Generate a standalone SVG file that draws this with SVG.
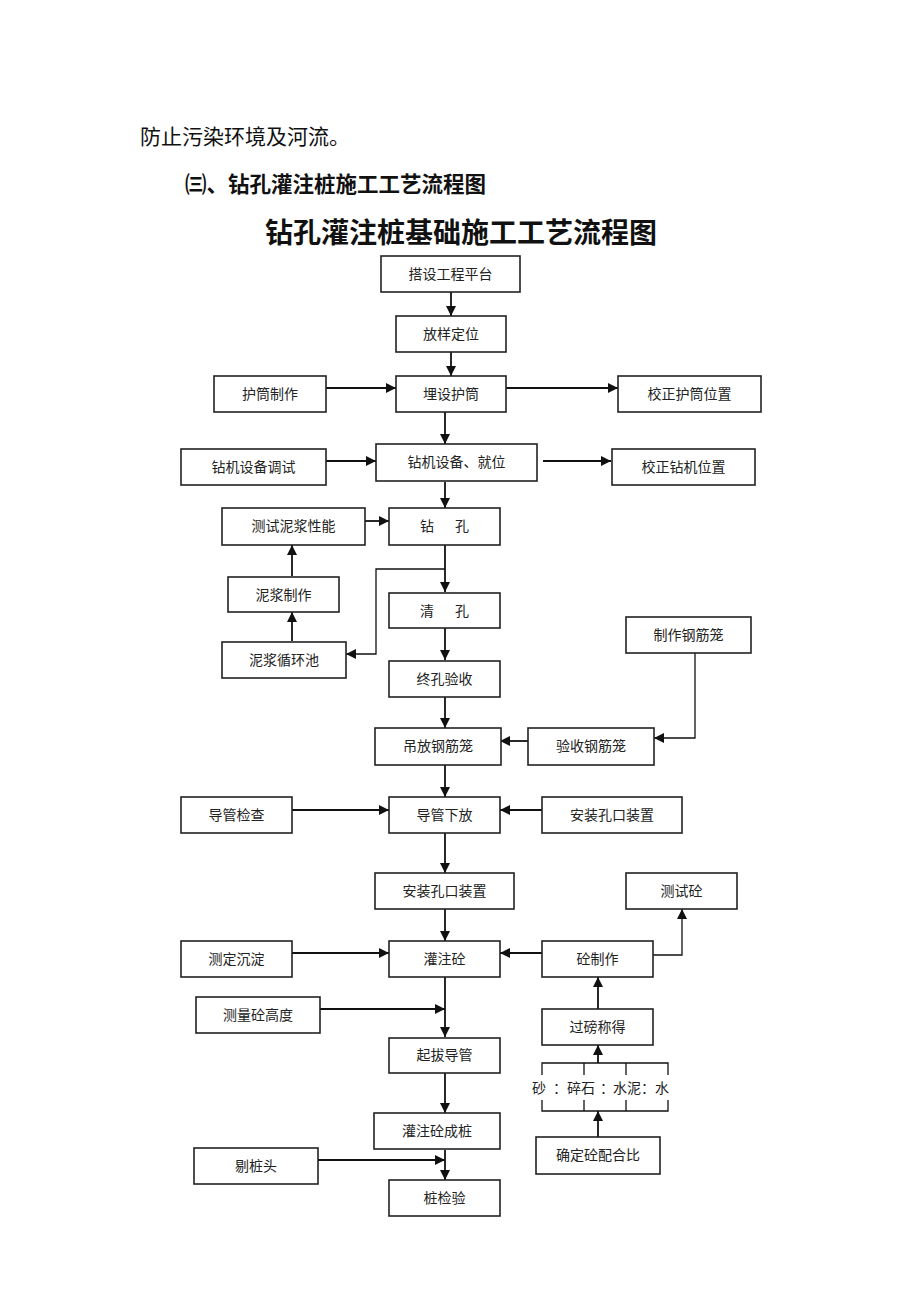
<svg xmlns="http://www.w3.org/2000/svg" width="920" height="1302" viewBox="0 0 920 1302">
<style>
.b{fill:#fff;stroke:#222;stroke-width:1.6}
.t{font-family:"Noto Sans CJK SC",sans-serif;font-size:14px;fill:#222;text-anchor:middle}
.c{fill:none;stroke:#111;stroke-width:1.8}
.h{font-family:"Noto Sans CJK SC",sans-serif;fill:#111}
</style>
<defs>
<marker id="a" viewBox="0 0 10 10" refX="10" refY="5" markerWidth="10" markerHeight="10" markerUnits="userSpaceOnUse" orient="auto"><path d="M0,0 L10,5 L0,10 z" fill="#111"/></marker>
</defs>
<rect width="920" height="1302" fill="#fff"/>
<text class="h" x="140" y="144" font-size="21">防止污染环境及河流。</text>
<text class="h" x="185" y="192" font-size="21.5" font-weight="bold">㈢、钻孔灌注桩施工工艺流程图</text>
<text class="h" x="265" y="243" font-size="28" font-weight="bold">钻孔灌注桩基础施工工艺流程图</text>

<g id="connectors">
<line class="c" x1="451" y1="292" x2="451" y2="316" marker-end="url(#a)"/>
<line class="c" x1="451" y1="352" x2="451" y2="376" marker-end="url(#a)"/>
<line class="c" x1="326" y1="388" x2="396" y2="388" marker-end="url(#a)"/>
<line class="c" x1="506" y1="388" x2="618" y2="388" marker-end="url(#a)"/>
<line class="c" x1="445" y1="412" x2="445" y2="444" marker-end="url(#a)"/>
<line class="c" x1="326" y1="461" x2="376" y2="461" marker-end="url(#a)"/>
<line class="c" x1="543" y1="461" x2="611" y2="461" marker-end="url(#a)"/>
<line class="c" x1="445" y1="482" x2="445" y2="508" marker-end="url(#a)"/>
<line class="c" x1="365" y1="521" x2="389" y2="521" marker-end="url(#a)"/>
<line class="c" x1="445" y1="545" x2="445" y2="592" marker-end="url(#a)"/>
<polyline class="c" points="445,569 376,569 376,654 346,654" marker-end="url(#a)" style="stroke-width:1.3"/>
<line class="c" x1="292" y1="576" x2="292" y2="545" marker-end="url(#a)"/>
<line class="c" x1="292" y1="641" x2="292" y2="612" marker-end="url(#a)"/>
<line class="c" x1="445" y1="628" x2="445" y2="660" marker-end="url(#a)"/>
<line class="c" x1="445" y1="697" x2="445" y2="728" marker-end="url(#a)"/>
<polyline class="c" points="695,653 695,738 654,738" marker-end="url(#a)" style="stroke-width:1.3"/>
<line class="c" x1="528" y1="741" x2="500" y2="741" marker-end="url(#a)"/>
<line class="c" x1="445" y1="765" x2="445" y2="797" marker-end="url(#a)"/>
<line class="c" x1="292" y1="810" x2="389" y2="810" marker-end="url(#a)"/>
<line class="c" x1="542" y1="810" x2="500" y2="810" marker-end="url(#a)"/>
<line class="c" x1="445" y1="833" x2="445" y2="873" marker-end="url(#a)"/>
<line class="c" x1="445" y1="909" x2="445" y2="941" marker-end="url(#a)"/>
<line class="c" x1="292" y1="953" x2="389" y2="953" marker-end="url(#a)"/>
<line class="c" x1="542" y1="953" x2="500" y2="953" marker-end="url(#a)"/>
<polyline class="c" points="653,955 682,955 682,909" marker-end="url(#a)" style="stroke-width:1.3"/>
<line class="c" x1="445" y1="977" x2="445" y2="1037" marker-end="url(#a)"/>
<line class="c" x1="320" y1="1009" x2="445" y2="1009" marker-end="url(#a)"/>
<line class="c" x1="445" y1="1073" x2="445" y2="1113" marker-end="url(#a)"/>
<line class="c" x1="445" y1="1150" x2="445" y2="1180" marker-end="url(#a)"/>
<line class="c" x1="318" y1="1160" x2="445" y2="1160" marker-end="url(#a)"/>
<line class="c" x1="598" y1="1009" x2="598" y2="977" marker-end="url(#a)"/>
<line class="c" x1="598" y1="1063" x2="598" y2="1045" marker-end="url(#a)"/>
<line class="c" x1="598" y1="1137" x2="598" y2="1111" marker-end="url(#a)"/>
<path class="c" style="stroke-width:1.3" d="M542,1075 V1063 H668 V1075 M584,1063 V1075 M626,1063 V1075 M542,1100 V1111 H668 V1100 M584,1100 V1111 M626,1100 V1111"/>
</g>

<g id="n1"><rect class="b" x="381" y="256" width="139" height="36"/><text class="t" x="450.5" y="279">搭设工程平台</text></g>
<g id="n2"><rect class="b" x="396" y="316" width="110" height="36"/><text class="t" x="451" y="339">放样定位</text></g>
<g id="n3"><rect class="b" x="214" y="376" width="112" height="36"/><text class="t" x="270" y="399">护筒制作</text></g>
<g id="n4"><rect class="b" x="396" y="376" width="110" height="36"/><text class="t" x="451" y="399">埋设护筒</text></g>
<g id="n5"><rect class="b" x="618" y="376" width="143" height="36"/><text class="t" x="689.5" y="399">校正护筒位置</text></g>
<g id="n6"><rect class="b" x="181" y="449" width="145" height="36"/><text class="t" x="253.5" y="472">钻机设备调试</text></g>
<g id="n7"><rect class="b" x="376" y="444" width="161" height="37"/><text class="t" x="456.5" y="467">钻机设备、就位</text></g>
<g id="n8"><rect class="b" x="612" y="449" width="143" height="36"/><text class="t" x="683.5" y="472">校正钻机位置</text></g>
<g id="n9"><rect class="b" x="222" y="508" width="143" height="37"/><text class="t" x="293.5" y="531">测试泥浆性能</text></g>
<g id="n10"><rect class="b" x="389" y="508" width="111" height="37"/><text class="t" y="531"><tspan x="427">钻</tspan><tspan x="462">孔</tspan></text></g>
<g id="n11"><rect class="b" x="228" y="577" width="111" height="35"/><text class="t" x="283.5" y="600">泥浆制作</text></g>
<g id="n12"><rect class="b" x="389" y="593" width="111" height="35"/><text class="t" y="616"><tspan x="427">清</tspan><tspan x="462">孔</tspan></text></g>
<g id="n13"><rect class="b" x="222" y="642" width="124" height="36"/><text class="t" x="284" y="665">泥浆循环池</text></g>
<g id="n14"><rect class="b" x="389" y="661" width="111" height="36"/><text class="t" x="444.5" y="684">终孔验收</text></g>
<g id="n15"><rect class="b" x="626" y="617" width="125" height="36"/><text class="t" x="688.5" y="640">制作钢筋笼</text></g>
<g id="n16"><rect class="b" x="375" y="728" width="126" height="37"/><text class="t" x="438" y="751">吊放钢筋笼</text></g>
<g id="n17"><rect class="b" x="528" y="728" width="126" height="37"/><text class="t" x="591" y="751">验收钢筋笼</text></g>
<g id="n18"><rect class="b" x="181" y="797" width="111" height="36"/><text class="t" x="236.5" y="820">导管检查</text></g>
<g id="n19"><rect class="b" x="389" y="797" width="111" height="36"/><text class="t" x="444.5" y="820">导管下放</text></g>
<g id="n20"><rect class="b" x="542" y="797" width="140" height="36"/><text class="t" x="612" y="820">安装孔口装置</text></g>
<g id="n21"><rect class="b" x="375" y="873" width="139" height="36"/><text class="t" x="444.5" y="896">安装孔口装置</text></g>
<g id="n22"><rect class="b" x="626" y="873" width="111" height="36"/><text class="t" x="681.5" y="896">测试砼</text></g>
<g id="n23"><rect class="b" x="181" y="941" width="111" height="36"/><text class="t" x="236.5" y="964">测定沉淀</text></g>
<g id="n24"><rect class="b" x="389" y="941" width="111" height="36"/><text class="t" x="444.5" y="964">灌注砼</text></g>
<g id="n25"><rect class="b" x="542" y="941" width="111" height="36"/><text class="t" x="597.5" y="964">砼制作</text></g>
<g id="n26"><rect class="b" x="196" y="997" width="124" height="36"/><text class="t" x="258" y="1020">测量砼高度</text></g>
<g id="n27"><rect class="b" x="542" y="1009" width="111" height="36"/><text class="t" x="597.5" y="1032">过磅称得</text></g>
<g id="n28"><rect class="b" x="389" y="1038" width="111" height="35"/><text class="t" x="444.5" y="1060">起拔导管</text></g>
<g id="n29"><rect class="b" x="374" y="1113" width="126" height="36"/><text class="t" x="437" y="1136">灌注砼成桩</text></g>
<g id="n30"><rect class="b" x="536" y="1137" width="124" height="37"/><text class="t" x="598" y="1160">确定砼配合比</text></g>
<g id="n31"><rect class="b" x="194" y="1148" width="124" height="36"/><text class="t" x="256" y="1171">剔桩头</text></g>
<g id="n32"><rect class="b" x="389" y="1180" width="111" height="36"/><text class="t" x="444.5" y="1203">桩检验</text></g>
<g id="ratio"><text class="t" y="1093" style="text-anchor:start"><tspan x="532">砂</tspan><tspan x="553">：</tspan><tspan x="567">碎石</tspan><tspan x="600">：</tspan><tspan x="613">水泥：水</tspan></text></g>
</svg>
